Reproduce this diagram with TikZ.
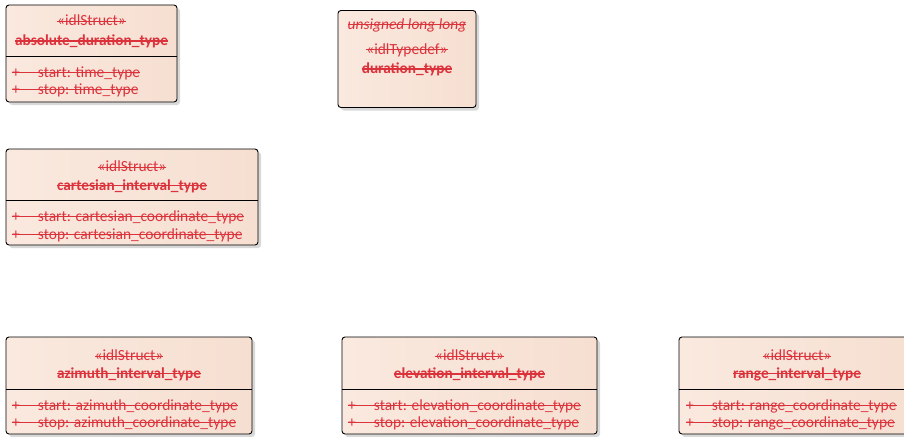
\documentclass[tikz,border=0pt]{standalone}
\usepackage{fontspec}
\setmainfont{Carlito}
\usetikzlibrary{shadows}
\definecolor{umlred}{RGB}{220,50,60}
\definecolor{umlfillA}{RGB}{250,233,223}
\definecolor{umlfillB}{RGB}{246,223,209}
\newsavebox\strikebox
\newcommand\strike[1]{\sbox\strikebox{#1}\rlap{\usebox\strikebox}\rule[0.24em]{\wd\strikebox}{0.07em}}
\begin{document}
\begin{tikzpicture}[x=1pt, y=-1pt,
            classbox/.style={draw, line width=0.9pt, rounded corners=3pt, left color=umlfillA, right color=umlfillB,
              drop shadow={shadow xshift=3pt, shadow yshift=-3pt, fill=black!30, opacity=0.5}, inner sep=0pt},
            stereo/.style={text=umlred, font=\fontsize{15.5}{17}\selectfont, inner sep=0pt},
            cname/.style={text=umlred, font=\fontsize{15.3}{17}\selectfont\bfseries, inner sep=0pt},
            attr/.style={text=umlred, font=\fontsize{15.5}{17}\selectfont, inner sep=0pt, anchor=west}
            ]
            \useasboundingbox (0,0) rectangle (904,436);

            \node[classbox, minimum width=171, minimum height=97] (absdur) at (91.5,53.5) {};
            \draw[line width=0.9pt] ([yshift=-52pt]absdur.north west) -- ([yshift=-52pt]absdur.north east);
            \node[stereo] (absdur-st) at (91.5,20) {\strike{«idlStruct»}};
            \node[cname] (absdur-nm) at (91.5,41) {\strike{absolute\_duration\_type}};
            \node[attr] (absdur-a1) at (12,73) {\strike{+\hspace{18pt}start: time\_type}};
            \node[attr] (absdur-a2) at (12,90) {\strike{+\hspace{18pt}stop: time\_type}};

            \node[classbox, minimum width=138, minimum height=97] (dur) at (407,59) {};
            \node[stereo, font=\fontsize{15.5}{17}\selectfont\itshape] (dur-base) at (407,25) {\strike{unsigned long long}};
            \node[stereo] (dur-st) at (407,50) {\strike{«idlTypedef»}};
            \node[cname] (dur-nm) at (407,69) {\strike{duration\_type}};

            \node[classbox, minimum width=252, minimum height=96] (cart) at (132,197) {};
            \draw[line width=0.9pt] ([yshift=-52pt]cart.north west) -- ([yshift=-52pt]cart.north east);
            \node[stereo] (cart-st) at (132,166) {\strike{«idlStruct»}};
            \node[cname] (cart-nm) at (132,186) {\strike{cartesian\_interval\_type}};
            \node[attr] (cart-a1) at (12,217) {\strike{+\hspace{18pt}start: cartesian\_coordinate\_type}};
            \node[attr] (cart-a2) at (12,235) {\strike{+\hspace{18pt}stop: cartesian\_coordinate\_type}};

            \node[classbox, minimum width=246, minimum height=97] (azi) at (129,385.5) {};
            \draw[line width=0.9pt] ([yshift=-53pt]azi.north west) -- ([yshift=-53pt]azi.north east);
            \node[stereo] (azi-st) at (129,355) {\strike{«idlStruct»}};
            \node[cname] (azi-nm) at (129,374) {\strike{azimuth\_interval\_type}};
            \node[attr] (azi-a1) at (12,406) {\strike{+\hspace{18pt}start: azimuth\_coordinate\_type}};
            \node[attr] (azi-a2) at (12,423) {\strike{+\hspace{18pt}stop: azimuth\_coordinate\_type}};

            \node[classbox, minimum width=255, minimum height=97] (elev) at (469.5,385.5) {};
            \draw[line width=0.9pt] ([yshift=-53pt]elev.north west) -- ([yshift=-53pt]elev.north east);
            \node[stereo] (elev-st) at (469.5,355) {\strike{«idlStruct»}};
            \node[cname] (elev-nm) at (469.5,374) {\strike{elevation\_interval\_type}};
            \node[attr] (elev-a1) at (348,406) {\strike{+\hspace{18pt}start: elevation\_coordinate\_type}};
            \node[attr] (elev-a2) at (348,423) {\strike{+\hspace{18pt}stop: elevation\_coordinate\_type}};

            \node[classbox, minimum width=236, minimum height=97] (rng) at (797,385.5) {};
            \draw[line width=0.9pt] ([yshift=-53pt]rng.north west) -- ([yshift=-53pt]rng.north east);
            \node[stereo] (rng-st) at (797,355) {\strike{«idlStruct»}};
            \node[cname] (rng-nm) at (797,374) {\strike{range\_interval\_type}};
            \node[attr] (rng-a1) at (686,406) {\strike{+\hspace{18pt}start: range\_coordinate\_type}};
            \node[attr] (rng-a2) at (686,423) {\strike{+\hspace{18pt}stop: range\_coordinate\_type}};
            \end{tikzpicture}
\end{document}
